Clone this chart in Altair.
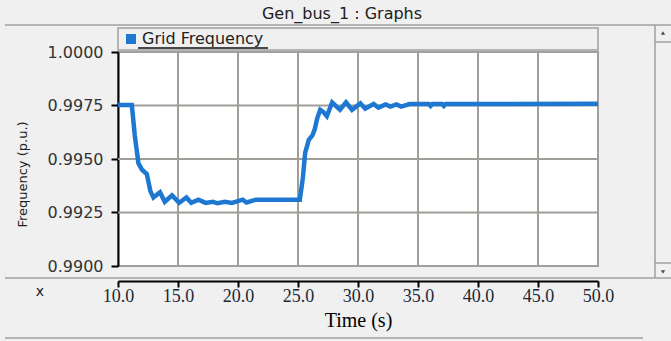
import altair as alt
import pandas as pd

# ---- data ----
time_s = [10.0, 11.15, 11.4, 11.7, 12.0, 12.4, 12.7, 12.95, 13.5, 13.9, 14.5, 15.1, 15.7,
          16.1, 16.7, 17.3, 17.9, 18.3, 18.9, 19.5, 20.4, 20.7, 21.5, 25.15, 25.4, 25.6,
          25.9, 26.2, 26.4, 26.6, 26.85, 27.1, 27.4, 27.85, 28.5, 29.0, 29.5, 30.2, 30.6,
          31.3, 31.7, 32.3, 32.7, 33.2, 33.6, 34.3, 35.9, 36.05, 36.2, 37.0, 37.15, 37.3, 50.0]
freq_pu = [0.99752, 0.99752, 0.9961, 0.9948, 0.9945, 0.9943, 0.9935, 0.9932, 0.99345, 0.9930,
           0.9933, 0.99295, 0.9932, 0.99295, 0.9931, 0.99295, 0.9930, 0.99293, 0.9930, 0.99295,
           0.9931, 0.99297, 0.9931, 0.9931, 0.9941, 0.9953, 0.9959, 0.9961, 0.9964, 0.9969,
           0.9973, 0.9972, 0.9970, 0.99764, 0.9973, 0.99765, 0.9973, 0.9976, 0.99735, 0.99757,
           0.9974, 0.99755, 0.99745, 0.99755, 0.99745, 0.99757, 0.99757, 0.99748, 0.99757,
           0.99757, 0.99748, 0.99757, 0.99758]
series_name = "Grid Frequency"
x_ticks = [10, 15, 20, 25, 30, 35, 40, 45, 50]
y_ticks = [0.99, 0.9925, 0.995, 0.9975, 1.0]
x_grid = [15, 20, 25, 30, 35, 40, 45]
y_grid = [0.9925, 0.995, 0.9975]

df = pd.DataFrame({"t": time_s, "f": freq_pu, "s": [series_name] * len(time_s)})
gx = pd.DataFrame({"t": x_grid})
gy = pd.DataFrame({"f": y_grid})
one = pd.DataFrame({"k": [0]})

W, H = 480, 214
LINE = "#1e78d2"
GRID = "#a19e9a"
EDGE = "#a0a0a0"

xscale = alt.Scale(domain=[10, 50], nice=False, zero=False)
yscale = alt.Scale(domain=[0.99, 1.0], nice=False, zero=False)
xaxis = alt.Axis(values=x_ticks, format=".1f", grid=False, offset=15,
                 domainColor="black", domainWidth=2, tickColor="black", tickWidth=2,
                 tickSize=6, labelFont="Liberation Serif", labelFontSize=18,
                 labelColor="#1c2838", labelPadding=0, labelFlush=False,
                 title="Time (s)", titleFont="Liberation Serif", titleFontSize=20,
                 titleFontWeight="normal", titleColor="black", titleY=39,
                 titleBaseline="middle")
yaxis = alt.Axis(values=y_ticks, format=".4f", grid=False,
                 domainColor="black", domainWidth=2, tickColor="black", tickWidth=2,
                 tickSize=7, labelFont="DejaVu Sans", labelFontSize=16,
                 labelColor="#333333", labelPadding=8, labelFlush=False,
                 title="Frequency (p.u.)", titleFont="DejaVu Sans", titleFontSize=13,
                 titleFontWeight="normal", titleColor="#202020", titleX=-96, titleY=122,
                 titleAngle=-90, titleBaseline="middle", titleAlign="center")

X = alt.X("t:Q", scale=xscale, axis=xaxis)
Y = alt.Y("f:Q", scale=yscale, axis=yaxis)

grid_v = alt.Chart(gx).mark_rule(color=GRID, strokeWidth=2).encode(x=X)
grid_h = alt.Chart(gy).mark_rule(color=GRID, strokeWidth=2).encode(y=Y)

line = alt.Chart(df).mark_line(strokeWidth=4.5, interpolate="linear").encode(
    x=X, y=Y,
    color=alt.Color("s:N", scale=alt.Scale(range=[LINE]),
                    legend=alt.Legend(title=None, orient="none", legendX=5, legendY=-21,
                                      symbolType="square", symbolSize=72,
                                      symbolFillColor=LINE, symbolStrokeColor=LINE,
                                      symbolStrokeWidth=1.5, labelFont="DejaVu Sans",
                                      labelFontSize=16, labelColor="#222222",
                                      labelOffset=3, padding=0)))

def deco_rule(x1, x2, y1, y2=None, color=EDGE, w=1.5):
    enc = dict(x=alt.value(x1), x2=alt.value(x2), y=alt.value(y1))
    if y2 is not None:
        enc["y2"] = alt.value(y2)
    return alt.Chart(one).mark_rule(color=color, strokeWidth=w).encode(**enc)

legend_bar = alt.Chart(one).mark_rect(fill="#f0f0f0", stroke=EDGE, strokeWidth=1.5).encode(
    x=alt.value(0), x2=alt.value(W), y=alt.value(-24), y2=alt.value(-2))
underline = deco_rule(20, 150, -4, color="#111111", w=1.5)
top_sep = deco_rule(-113, 553, -27)
bottom_sep = deco_rule(-113, 553, 226)
bottom_line = deco_rule(-113, 525, 286)
scroll_v = deco_rule(537, 537, -27, 226)
scroll_h1 = deco_rule(537, 553, -10)
scroll_h2 = deco_rule(537, 553, 211)
arrow_up = alt.Chart(one).mark_point(shape="triangle-up", filled=True, color="black", size=18).encode(
    x=alt.value(545), y=alt.value(-19))
arrow_dn = alt.Chart(one).mark_point(shape="triangle-down", filled=True, color="black", size=18).encode(
    x=alt.value(545), y=alt.value(220))
title_txt = alt.Chart(one).mark_text(font="DejaVu Sans", fontSize=16, color="#202020",
                                     align="center", baseline="middle").encode(
    x=alt.value(224), y=alt.value(-38), text=alt.value("Gen_bus_1 : Graphs"))
x_txt = alt.Chart(one).mark_text(font="DejaVu Sans", fontSize=14, color="#202020",
                                 align="center", baseline="middle").encode(
    x=alt.value(-78), y=alt.value(240), text=alt.value("x"))

chart = alt.layer(
    grid_v, grid_h, line, legend_bar, underline, top_sep, bottom_sep, bottom_line,
    scroll_v, scroll_h1, scroll_h2, arrow_up, arrow_dn, title_txt, x_txt
).properties(
    width=W, height=H,
    autosize=alt.AutoSizeParams(type="none"),
    padding={"left": 118, "top": 52, "right": 73, "bottom": 75},
    background="#f0f0f0",
).configure_view(fill="white", stroke=EDGE, strokeWidth=2)

chart.save("out.html", embed_options={"renderer": "svg", "actions": False})
